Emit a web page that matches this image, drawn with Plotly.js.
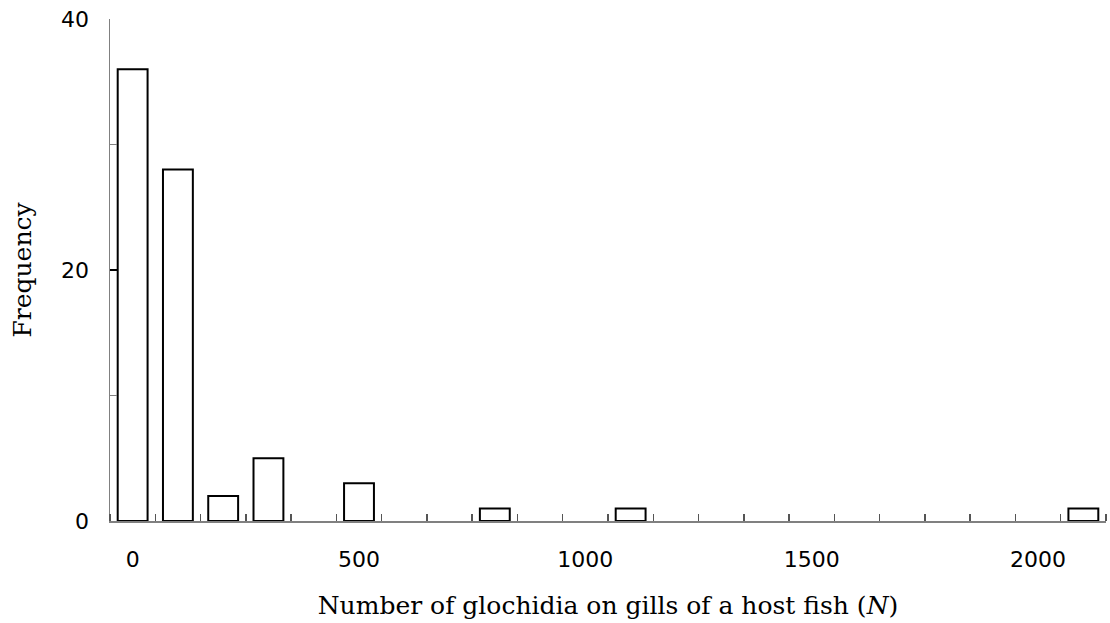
<!DOCTYPE html>
<html>
<head>
<meta charset="utf-8">
<script src="https://cdn.plot.ly/plotly-3.0.1.min.js"></script>
<style>html,body{margin:0;padding:0;background:#fff;}#chart{width:1110px;height:623px;}</style>
</head>
<body>
<div id="chart"></div>
<script>
// Bin (lower bound of each 100-glochidia class) and frequency
const binStarts = [0,100,200,300,400,500,600,700,800,900,1000,1100,1200,1300,1400,1500,1600,1700,1800,1900,2000,2100];
const frequency = [36,28,2,5,0,3,0,0,1,0,0,1,0,0,0,0,0,0,0,0,0,1];
const xTickVals = [0,500,1000,1500,2000];
const xTickText = ["0","500","1000","1500","2000"];
const yTickVals = [0,20,40];
const yTickText = ["0","20","40"];

// empty classes draw no bar outline
const barHeights = frequency.map(v => (v === 0 ? null : v));

const trace = {
  type: 'bar',
  x: binStarts,
  y: barHeights,
  width: 66,
  marker: {color: '#ffffff', line: {color: '#000000', width: 2}},
  hoverinfo: 'x+y'
};

const tickFont = {size: 22, family: 'DejaVu Sans, sans-serif', color: '#000'};
const titleFont = {family: 'DejaVu Serif, serif', size: 25, color: '#000'};

const layout = {
  width: 1110, height: 623,
  margin: {l: 110, r: 4, t: 19, b: 102},
  paper_bgcolor: '#ffffff', plot_bgcolor: '#ffffff',
  showlegend: false,
  font: {family: 'DejaVu Sans, sans-serif', color: '#000'},
  xaxis: {
    range: [-50, 2150],
    showgrid: false, zeroline: false,
    showline: true, linecolor: '#808080', linewidth: 2,
    tickmode: 'array', tickvals: xTickVals, ticktext: xTickText,
    ticks: '', ticklabelstandoff: 18,
    tickfont: tickFont,
    minor: {tick0: 50, dtick: 100, ticks: 'inside', ticklen: 7, tickwidth: 1.5, tickcolor: '#555555', showgrid: false},
    title: {text: 'Number of glochidia on gills of a host fish (<i>N</i>)', standoff: 25, font: titleFont}
  },
  yaxis: {
    range: [0, 40],
    showgrid: false, zeroline: false,
    showline: true, linecolor: '#808080', linewidth: 1.5,
    tickmode: 'array', tickvals: yTickVals, ticktext: yTickText,
    ticks: 'inside', ticklen: 8, tickwidth: 1.5, tickcolor: '#000',
    ticklabelstandoff: 15,
    tickfont: tickFont,
    minor: {dtick: 10, ticks: 'inside', ticklen: 7, tickwidth: 1.5, tickcolor: '#808080', showgrid: false},
    title: {text: 'Frequency', standoff: 22, font: titleFont}
  }
};

Plotly.newPlot('chart', [trace], layout, {displayModeBar: false, staticPlot: true});
</script>
</body>
</html>
